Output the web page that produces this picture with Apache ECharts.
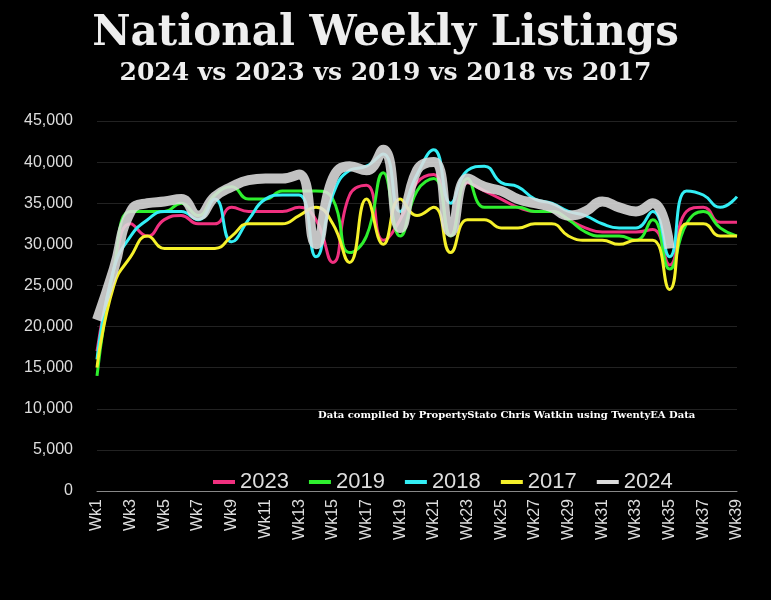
<!DOCTYPE html>
<html>
<head>
<meta charset="utf-8">
<script src="https://cdn.jsdelivr.net/npm/echarts@6/dist/echarts.min.js"></script>
<style>html,body{margin:0;background:#000}#chart{width:771px;height:600px}</style>
</head>
<body>
<div id="chart"></div>
<script>
var weeks = [];
for (var i = 1; i <= 39; i++) weeks.push('Wk' + i);

var s2023 = [17000,27000,32500,31000,33000,33500,32500,32500,34500,34000,34000,34000,34500,33000,27800,36000,37200,30500,33000,37500,38500,31000,37500,36500,35500,34500,34000,34000,33000,32000,31500,31500,31500,31800,27500,34000,34500,32700,32700];
var s2019 = [14000,27000,34000,34000,34000,35000,33500,36000,37000,35500,35500,36500,36500,36500,35500,29000,31000,38700,31000,36500,38000,31000,38000,34500,34500,34500,34000,34000,33000,31500,31000,31000,30500,33000,27000,32500,34000,32000,31000];
var s2018 = [16000,27000,31000,33000,34000,34000,33000,35500,30300,33000,35500,36000,36000,28500,36000,39000,39500,41000,34000,38500,41500,35000,39000,39500,37500,37000,35500,35000,34000,33500,32500,32000,32000,34000,28500,36500,36000,34500,35800];
var s2017 = [15000,25000,28500,31000,29500,29500,29500,29500,31000,32500,32500,32500,33500,34500,32500,27800,35500,30000,35500,33500,34500,29000,33000,33000,32000,32000,32500,32500,31000,30500,30500,30000,30500,30500,24500,32500,32500,31000,31000];
var s2024 = [20800,27000,34000,35000,35200,35500,33500,35800,37000,37800,38000,38000,38500,30000,38000,39500,39000,41500,32000,39000,40000,31500,38000,37000,36500,35500,35000,34500,33500,34000,35200,34500,34000,35000,29500];

var chart = echarts.init(document.getElementById('chart'));

function line(name, data, color, width) {
  return {
    name: name, type: 'line', data: data, smooth: 0.5, symbol: 'none',
    lineStyle: { color: color, width: width, opacity: name === '2024' ? 0.88 : 1 },
    itemStyle: { color: color }
  };
}

chart.setOption({
  backgroundColor: '#000',
  title: [{
    text: 'National Weekly Listings',
    subtext: '2024 vs 2023 vs 2019 vs 2018 vs 2017',
    left: 'center', top: 8, itemGap: 6,
    textStyle: { fontFamily: 'DejaVu Serif', fontWeight: 'bold', fontSize: 42, color: '#eee' },
    subtextStyle: { fontFamily: 'DejaVu Serif', fontWeight: 'bold', fontSize: 25, color: '#eee' }
  }],
  graphic: [{
    type: 'text', left: 318, top: 410,
    style: { text: 'Data compiled by PropertyStato Chris Watkin using TwentyEA Data',
      fill: '#fff', font: 'bold 10px "DejaVu Serif"' }
  }],
  legend: {
    data: ['2023', '2019', '2018', '2017', '2024'],
    top: 466, left: 208, itemWidth: 22, itemHeight: 4, itemGap: 20,
    icon: 'rect',
    textStyle: { color: '#ddd', fontSize: 22, fontFamily: 'Liberation Sans' }
  },
  grid: { left: 97, right: 34, top: 121, bottom: 109 },
  xAxis: {
    type: 'category', data: weeks, boundaryGap: false,
    axisLine: { lineStyle: { color: '#888' } },
    axisTick: { show: false },
    axisLabel: { rotate: 90, interval: 1, color: '#ddd', fontSize: 16, fontFamily: 'Liberation Sans', margin: 8 }
  },
  yAxis: {
    type: 'value', min: 0, max: 45000, interval: 5000,
    axisLine: { show: false }, axisTick: { show: false },
    splitLine: { lineStyle: { color: '#222' } },
    axisLabel: { color: '#ddd', fontSize: 16, fontFamily: 'Liberation Sans', margin: 24,
      formatter: function (v) { return v.toLocaleString('en-US'); } }
  },
  series: [
    line('2023', s2023, '#f0307f', 3),
    line('2019', s2019, '#2ef02e', 3),
    line('2018', s2018, '#33eef5', 3),
    line('2017', s2017, '#f5f02a', 3),
    line('2024', s2024, '#dddddd', 10)
  ]
});
</script>
</body>
</html>
